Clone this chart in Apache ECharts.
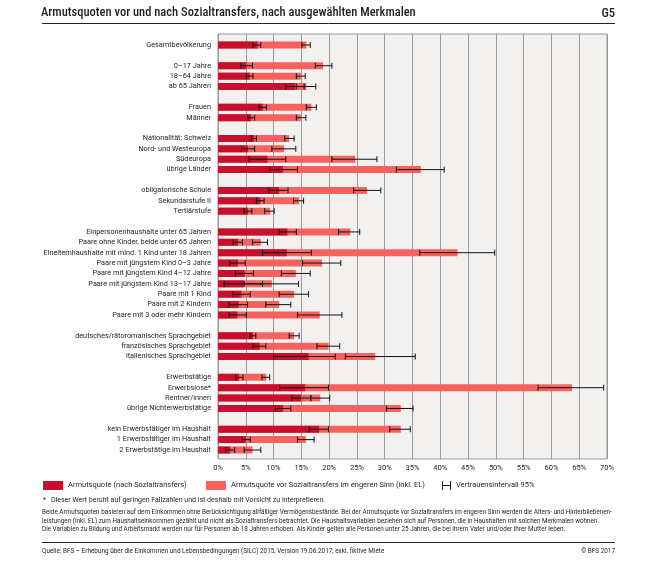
<!DOCTYPE html>
<html>
<head>
<meta charset="utf-8">
<script src="https://cdn.jsdelivr.net/npm/echarts@6/dist/echarts.min.js"></script>
<style>
html,body{margin:0;padding:0;background:#fff;}
#c{width:645px;height:570px;}
</style>
</head>
<body>
<div id="c"></div>
<script>
// ---- data ----
const categories = [
  'Gesamtbevölkerung', ' ',
  '0–17 Jahre', '18–64 Jahre', 'ab 65 Jahren', '  ',
  'Frauen', 'Männer', '   ',
  'Nationalität: Schweiz', 'Nord- und Westeuropa', 'Südeuropa', 'übrige Länder', '    ',
  'obligatorische Schule', 'Sekundarstufe II', 'Tertiärstufe', '     ',
  'Einpersonenhaushalte unter 65 Jahren', 'Paare ohne Kinder, beide unter 65 Jahren',
  'Einelternhaushalte mit mind. 1 Kind unter 18 Jahren', 'Paare mit jüngstem Kind 0–3 Jahre',
  'Paare mit jüngstem Kind 4–12 Jahre', 'Paare mit jüngstem Kind 13–17 Jahre',
  'Paare mit 1 Kind', 'Paare mit 2 Kindern', 'Paare mit 3 oder mehr Kindern', '      ',
  'deutsches/rätoromanisches Sprachgebiet', 'französisches Sprachgebiet', 'italienisches Sprachgebiet', '       ',
  'Erwerbstätige', 'Erwerbslose*', 'Rentner/innen', 'übrige Nichterwerbstätige', '        ',
  'kein Erwerbstätiger im Haushalt', '1 Erwerbstätiger im Haushalt', '2 Erwerbstätige im Haushalt'
];
// Armutsquote (nach Sozialtransfers)
const nachValues = [7.1,null, 5.1,5.7,13.9,null, 8.1,6.0,null, 6.5,5.4,8.9,11.7,null, 11.0,7.6,5.4,null,
  12.5,3.6,12.4,3.6,4.8,4.6,4.2,3.7,3.5,null, 6.3,7.5,16.3,null, 3.8,15.7,15.0,11.7,null, 18.2,5.0,2.2];
const nachLow  = [6.3,null, 4.1,5.1,12.2,null, 7.4,5.4,null, 6.0,4.2,5.6,9.3,null, 9.2,6.9,4.7,null,
  11.0,2.7,8.0,2.1,3.1,1.1,2.7,2.0,2.0,null, 5.8,6.3,10.0,null, 3.2,11.1,13.3,10.3,null, 16.4,4.3,1.4];
const nachHigh = [7.7,null, 6.2,6.3,15.5,null, 8.7,6.6,null, 6.9,6.6,12.2,14.3,null, 12.6,8.3,6.1,null,
  14.1,4.4,16.8,4.9,6.4,8.0,5.8,5.3,5.1,null, 6.8,8.6,21.1,null, 4.5,19.9,16.7,13.1,null, 19.9,5.8,3.0];
// Armutsquote vor Sozialtransfers im engeren Sinn (inkl. EL)
const vorValues = [15.9,null, 18.9,14.9,15.9,null, 16.8,14.9,null, 12.8,11.9,24.7,36.5,null, 26.8,14.6,9.4,null,
  23.8,7.7,43.1,18.7,14.0,9.7,13.7,11.0,18.3,null, 13.7,19.9,28.3,null, 8.7,63.7,18.4,32.9,null, 32.9,15.8,6.2];
const vorLow  = [15.1,null, 17.5,14.1,14.1,null, 15.9,14.1,null, 12.0,9.7,20.5,32.1,null, 24.4,13.6,8.4,null,
  21.7,6.2,36.3,15.2,11.4,4.7,11.0,8.6,14.3,null, 12.8,17.8,22.9,null, 7.9,57.6,16.7,30.3,null, 30.9,14.3,4.7];
const vorHigh = [16.6,null, 20.5,15.7,17.6,null, 17.7,15.8,null, 13.7,14.0,28.6,40.7,null, 29.3,15.4,10.1,null,
  25.5,8.9,49.8,22.1,16.6,14.5,16.3,13.1,22.3,null, 14.6,21.9,35.5,null, 9.3,69.4,20.1,35.1,null, 34.6,17.3,7.7];
const xTicks = {min: 0, max: 70, step: 5};

const nameNach = 'Armutsquote (nach Sozialtransfers)';
const nameVor = 'Armutsquote vor Sozialtransfers im engeren Sinn (inkl. EL)';
const nameCI = 'Vertrauensintervall 95%';

// build interval data
const ciData = [];
categories.forEach((c, i) => {
  if (vorValues[i] != null) ciData.push([i, vorLow[i], vorHigh[i]]);
  if (nachValues[i] != null) ciData.push([i, nachLow[i], nachHigh[i]]);
});

const FONT = "Roboto, 'Noto Sans', sans-serif";
const TXT = '#1e1e1e';
const DARK = '#c8102e';
const LIGHT = '#f7625f';

const chart = echarts.init(document.getElementById('c'), null, {renderer: 'canvas'});
chart.setOption({
  animation: false,
  textStyle: {fontFamily: FONT},
  title: {
    text: 'Armutsquoten vor und nach Sozialtransfers, nach ausgewählten Merkmalen',
    left: 41, top: 6, padding: 0,
    textStyle: {fontSize: 12.5, fontWeight: 500, color: TXT, fontFamily: "'Roboto Condensed','Liberation Sans Narrow','Roboto',sans-serif"}
  },
  legend: [
    {data: [nameNach], left: 43, top: 481, padding: 0, itemWidth: 20, itemHeight: 9, itemGap: 5, icon: 'rect',
     textStyle: {fontSize: 7.5, color: TXT, fontFamily: FONT}, selectedMode: false},
    {data: [nameVor], left: 206, top: 481, padding: 0, itemWidth: 20, itemHeight: 9, icon: 'rect',
     textStyle: {fontSize: 7.5, color: TXT, fontFamily: FONT}, selectedMode: false},
    {data: [{name: nameCI, icon: 'path://M0,0h1v10h-1z M1,4.5h8v1h-8z M9,0h1v10h-1z'}], left: 442, top: 481, padding: 0, itemWidth: 9, itemHeight: 9,
     itemStyle: {color: '#111'}, textStyle: {fontSize: 7.5, color: TXT, fontFamily: FONT}, selectedMode: false}
  ],
  grid: [
    {left: 218, right: 38, top: 34, bottom: 111, show: true, backgroundColor: '#f2f1f0', borderColor: '#9a9a9a', borderWidth: 1, containLabel: false},
    {left: 218, right: 38, top: 39.8, bottom: 114.8, containLabel: false}
  ],
  xAxis: [
    {gridIndex: 0, type: 'value', min: xTicks.min, max: xTicks.max, interval: xTicks.step,
     axisLine: {show: false}, axisTick: {show: false},
     splitLine: {show: true, lineStyle: {color: '#9a9a9a', width: 1}},
     axisLabel: {formatter: '{value}%', fontSize: 7.5, color: TXT, margin: 5, fontFamily: FONT}},
    {gridIndex: 1, type: 'value', min: xTicks.min, max: xTicks.max, show: false}
  ],
  yAxis: [
    {gridIndex: 0, type: 'value', show: false},
    {gridIndex: 1, type: 'category', data: categories, inverse: true,
     axisLine: {show: false}, axisTick: {show: false},
     axisLabel: {fontSize: 7.3, color: TXT, margin: 7, fontFamily: FONT, interval: 0}}
  ],
  series: [
    {name: nameVor, type: 'bar', xAxisIndex: 1, yAxisIndex: 1, data: vorValues, barWidth: 7, barGap: '-100%',
     itemStyle: {color: LIGHT}, z: 2},
    {name: nameNach, type: 'bar', xAxisIndex: 1, yAxisIndex: 1, data: nachValues, barWidth: 7, barGap: '-100%',
     itemStyle: {color: DARK}, z: 3},
    {name: nameCI, type: 'custom', xAxisIndex: 1, yAxisIndex: 1, data: ciData, z: 10,
     encode: {x: [1, 2], y: 0},
     itemStyle: {color: '#111'},
     renderItem: function (params, api) {
       const y = api.value(0);
       const p1 = api.coord([api.value(1), y]);
       const p2 = api.coord([api.value(2), y]);
       const h = 3;
       const st = {stroke: '#111', lineWidth: 1, fill: null};
       return {type: 'group', children: [
         {type: 'line', shape: {x1: p1[0], y1: p1[1], x2: p2[0], y2: p2[1]}, style: st},
         {type: 'line', shape: {x1: p1[0], y1: p1[1] - h, x2: p1[0], y2: p1[1] + h}, style: st},
         {type: 'line', shape: {x1: p2[0], y1: p2[1] - h, x2: p2[0], y2: p2[1] + h}, style: st}
       ]};
     }}
  ],
  graphic: [
    {type: 'text', right: 30, top: 7, style: {text: 'G5', font: "500 12.5px 'Roboto Condensed','Liberation Sans Narrow',Roboto,sans-serif", fill: TXT}},
    {type: 'line', shape: {x1: 42, y1: 23.5, x2: 615, y2: 23.5}, style: {stroke: '#222', lineWidth: 1}},
    {type: 'text', left: 43, top: 497, style: {text: '*', font: '7px ' + FONT, fill: TXT}},
    {type: 'text', left: 51, top: 497, style: {text: 'Dieser Wert beruht auf geringen Fallzahlen und ist deshalb mit Vorsicht zu interpretieren.', font: '7px ' + FONT, fill: TXT}},
    {type: 'text', left: 42, top: 508.5, style: {
      text: 'Beide Armutsquoten basieren auf dem Einkommen ohne Berücksichtigung allfälliger Vermögensbestände. Bei der Armutsquote vor Sozialtransfers im engeren Sinn werden die Alters- und Hinterbliebenen-\nleistungen (inkl. EL) zum Haushaltseinkommen gezählt und nicht als Sozialtransfers betrachtet. Die Haushaltsvariablen beziehen sich auf Personen, die in Haushalten mit solchen Merkmalen wohnen.\nDie Variablen zu Bildung und Arbeitsmarkt werden nur für Personen ab 18 Jahren erhoben. Als Kinder gelten alle Personen unter 25 Jahren, die bei ihrem Vater und/oder ihrer Mutter leben.',
      font: '6.33px ' + FONT, fill: TXT, lineHeight: 8.5}},
    {type: 'line', shape: {x1: 42, y1: 542.5, x2: 615, y2: 542.5}, style: {stroke: '#222', lineWidth: 1}},
    {type: 'text', left: 42, top: 548, style: {text: 'Quelle: BFS – Erhebung über die Einkommen und Lebensbedingungen (SILC) 2015, Version 19.06.2017, exkl. fiktive Miete', font: '6.4px ' + FONT, fill: TXT}},
    {type: 'text', right: 30, top: 548, style: {text: '© BFS 2017', font: '6.4px ' + FONT, fill: TXT}}
  ]
});
</script>
</body>
</html>
